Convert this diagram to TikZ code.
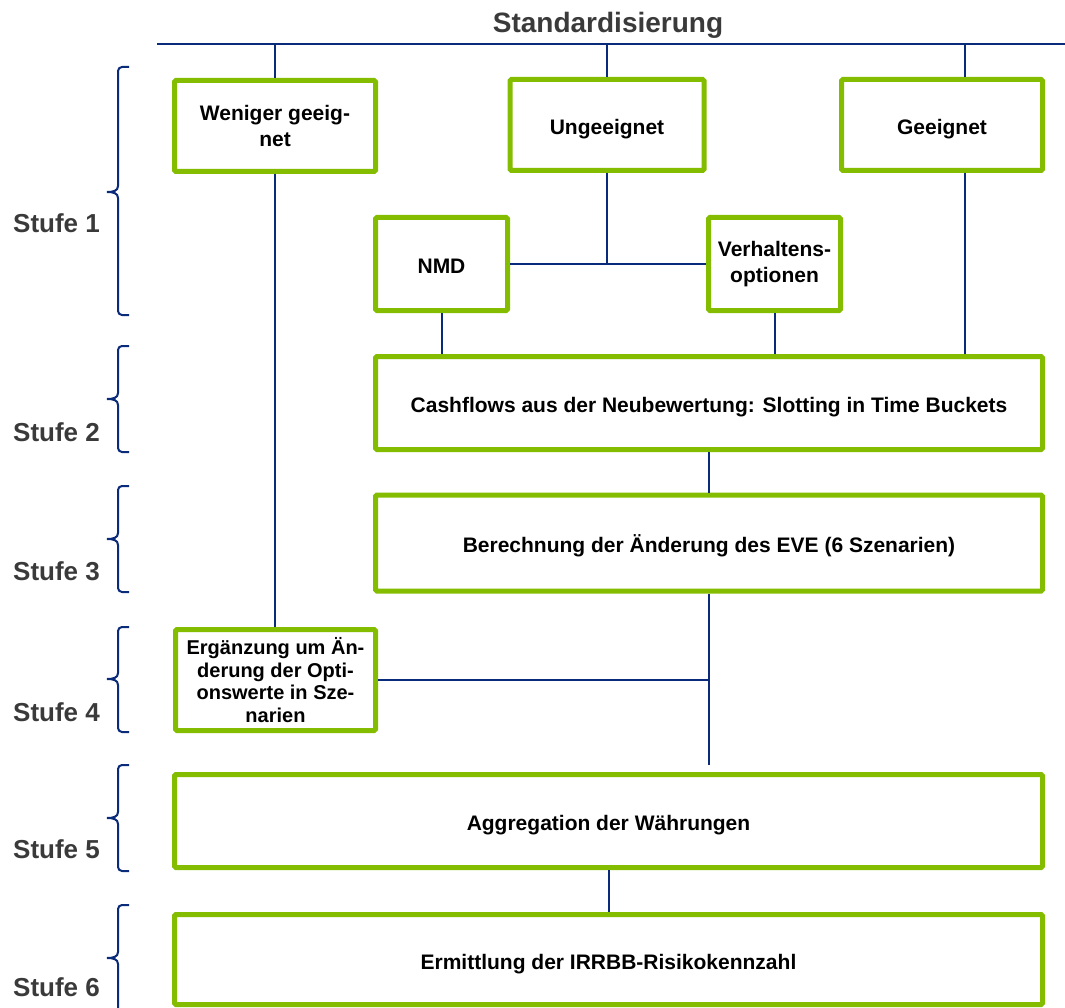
\documentclass[tikz,border=0pt]{standalone}
\usepackage{fontspec}
\setmainfont{Liberation Sans}
\usetikzlibrary{calc}
\definecolor{grn}{RGB}{132,189,0}
\definecolor{navy}{RGB}{10,42,122}
\definecolor{lbl}{RGB}{58,58,58}
\newcommand\stbrace[3]{%
  \draw[brc, rounded corners=4pt] (129,#1) -- (118,#1) -- (118,{#2-6});
  \draw[brc] (118,{#2-6}) .. controls (118,{#2-1}) and (113,#2) .. (107,#2);
  \draw[brc] (107,#2) .. controls (113,#2) and (118,{#2+1}) .. (118,{#2+6});
  \draw[brc, rounded corners=4pt] (118,{#2+6}) -- (118,#3) -- (129,#3);
}
\begin{document}
\begin{tikzpicture}[x=1pt,y=-1pt,
  box/.style={draw=grn, line width=5pt, fill=white, rounded corners=1.5pt,
    inner sep=0pt, align=center, font=\fontsize{21}{26}\selectfont\bfseries},
  onebox/.style={box, text height=19pt, text depth=0pt},
  conn/.style={draw=navy, line width=2pt},
  brc/.style={draw=navy, line width=2pt},
  stufe/.style={font=\fontsize{26}{30}\selectfont\bfseries, text=lbl, anchor=base west, inner sep=0pt},
  ttl/.style={font=\fontsize{28}{32}\selectfont\bfseries, text=lbl, anchor=base, inner sep=0pt}]
\useasboundingbox (0,0) rectangle (1065,1008);

% title and top line
\node[ttl] (title) at (608,33) {Standardisierung};
\coordinate (tl) at (157,44.5);
\coordinate (tr) at (1065,44.5);

% boxes
\node[box, minimum width=201pt, minimum height=91pt] (weniger) at (275,126) {Weniger geeig-\\net};
\node[onebox, minimum width=194pt, minimum height=91pt] (unge) at (607,125) {Ungeeignet};
\node[onebox, minimum width=201pt, minimum height=91pt] (geeig) at (942,125) {Geeignet};
\node[onebox, minimum width=132pt, minimum height=93pt] (nmd) at (441.5,264) {NMD};
\node[box, minimum width=132pt, minimum height=93pt] (verh) at (774.5,264) {Verhaltens-\\optionen};
\node[onebox, minimum width=667pt, minimum height=93pt] (cash) at (709,403) {Cashflows aus der Neubewertung: Slotting in Time Buckets};
\node[onebox, minimum width=667pt, minimum height=96pt] (ber) at (709,543) {Berechnung der Änderung des EVE (6 Szenarien)};
\node[box, minimum width=200pt, minimum height=101pt, font=\fontsize{20}{22.5}\selectfont\bfseries] (erg) at (275.5,680) {Ergänzung um Än-\\derung der Opti-\\onswerte in Sze-\\narien};
\node[onebox, minimum width=868pt, minimum height=93pt] (agg) at (608.5,821) {Aggregation der Währungen};
\node[onebox, minimum width=868pt, minimum height=90pt] (erm) at (608.5,959.5) {Ermittlung der IRRBB-Risikokennzahl};

% connectors
\draw[conn] (tl) -- (tr);
\draw[conn] (weniger.north) -- (weniger.north |- tl);
\draw[conn] (unge.north) -- (unge.north |- tl);
\coordinate (gx) at (965,0);
\draw[conn] (gx |- geeig.north) -- (gx |- tl);
\draw[conn] (gx |- geeig.south) -- (gx |- cash.north);
\draw[conn] (nmd.east) -- (verh.west);
\draw[conn] (unge.south) -- (unge.south |- nmd.east);
\draw[conn] (nmd.south) -- (nmd.south |- cash.north);
\draw[conn] (verh.south) -- (verh.south |- cash.north);
\draw[conn] (weniger.south) -- (weniger.south |- erg.north);
\draw[conn] (cash.south) -- (ber.north);
\coordinate (e5) at (709,765);
\draw[conn] (ber.south) -- (e5);
\draw[conn] (erg.east) -- (erg.east -| e5);
\draw[conn] (agg.south) -- (erm.north);

% stage labels and braces
\node[stufe] (s1) at (13,233) {Stufe 1};
\node[stufe] (s2) at (13,441) {Stufe 2};
\node[stufe] (s3) at (13,580) {Stufe 3};
\node[stufe] (s4) at (13,721) {Stufe 4};
\node[stufe] (s5) at (13,858) {Stufe 5};
\node[stufe] (s6) at (13,996) {Stufe 6};
\stbrace{67}{192}{315}
\stbrace{346}{399}{452}
\stbrace{486}{539}{592}
\stbrace{627}{679}{732}
\stbrace{765}{818}{871}
\stbrace{905}{958}{1012}
\end{tikzpicture}
\end{document}
